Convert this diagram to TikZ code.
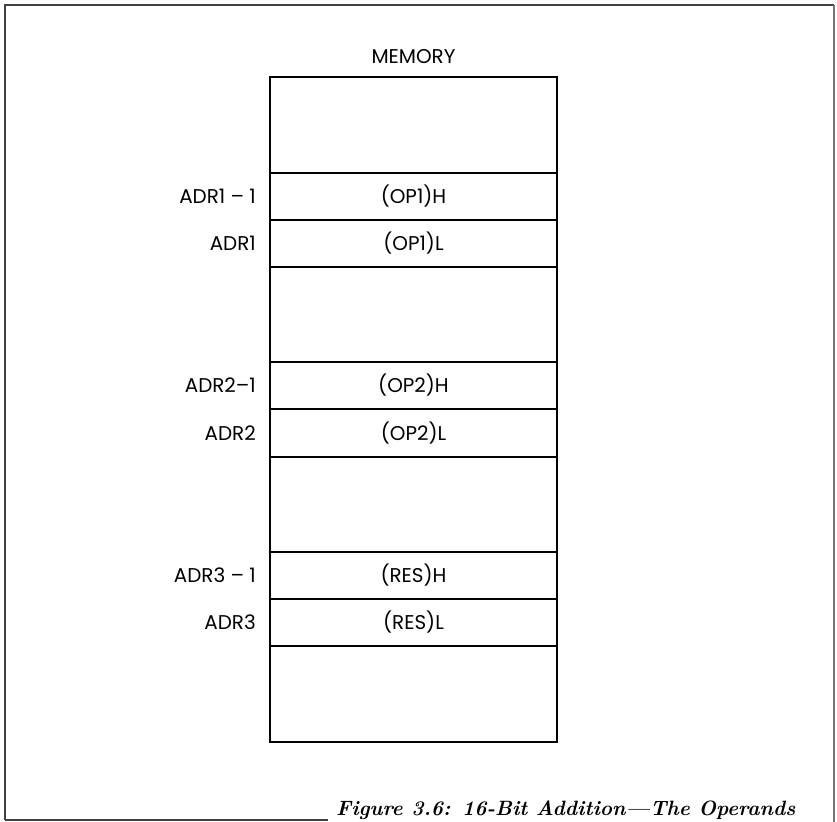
\documentclass[tikz,border=0pt]{standalone}
\usepackage{fontspec}
\newfontfamily\lab{Poppins}
\begin{document}
\begin{tikzpicture}[x=1bp,y=-1bp,
  cell/.style={draw=black,line width=2.6bp,rectangle,minimum width=287bp,inner sep=0pt,font=\lab\fontsize{20}{20}\selectfont},
  addr/.style={anchor=east,inner sep=0pt,font=\lab\fontsize{20}{20}\selectfont},
  frame/.style={draw=black!75,line width=1.8bp}]
\useasboundingbox (0,0) rectangle (837,822);
\fill[white] (0,0) rectangle (837,822);
% frame
\coordinate (ftl) at (5,5);
\coordinate (ftr) at (834,5);
\coordinate (fbl) at (5,820);
\coordinate (fbm) at (328,820);
\coordinate (fbr) at (834,822);
\draw[frame] (fbl) -- (ftl) -- (ftr);
\draw[frame] (fbl) -- (fbm);
\draw[draw=black!55,line width=1.5bp] (ftr) -- (fbr);
% memory cells
\node[cell,minimum height=96bp] (c0) at (413.5,125) {};
\node[cell,minimum height=47bp] (c1) at (413.5,196.5) {(OP1)H};
\node[cell,minimum height=47bp] (c2) at (413.5,243.5) {(OP1)L};
\node[cell,minimum height=95bp] (c3) at (413.5,314.5) {};
\node[cell,minimum height=47bp] (c4) at (413.5,385.5) {(OP2)H};
\node[cell,minimum height=48bp] (c5) at (413.5,433) {(OP2)L};
\node[cell,minimum height=95bp] (c6) at (413.5,504.5) {};
\node[cell,minimum height=47bp] (c7) at (413.5,575.5) {(RES)H};
\node[cell,minimum height=47bp] (c8) at (413.5,622.5) {(RES)L};
\node[cell,minimum height=96bp] (c9) at (413.5,694) {};
\node[inner sep=0pt,font=\lab\fontsize{20}{20}\selectfont] (mem) at (413.5,57) {MEMORY};
% address labels
\node[addr] (a1h) at (256,196.5) {ADR1 – 1};
\node[addr] (a1l) at (256,243.5) {ADR1};
\node[addr] (a2h) at (256,385.5) {ADR2–1};
\node[addr] (a2l) at (256,433) {ADR2};
\node[addr] (a3h) at (256,575.5) {ADR3 – 1};
\node[addr] (a3l) at (256,622.5) {ADR3};
% caption
\node[anchor=base west,inner sep=0pt,font=\bfseries\itshape\fontsize{20.8}{20.8}\selectfont] (cap) at (336,815) {Figure 3.6: 16-Bit Addition—The Operands};
\end{tikzpicture}
\end{document}
